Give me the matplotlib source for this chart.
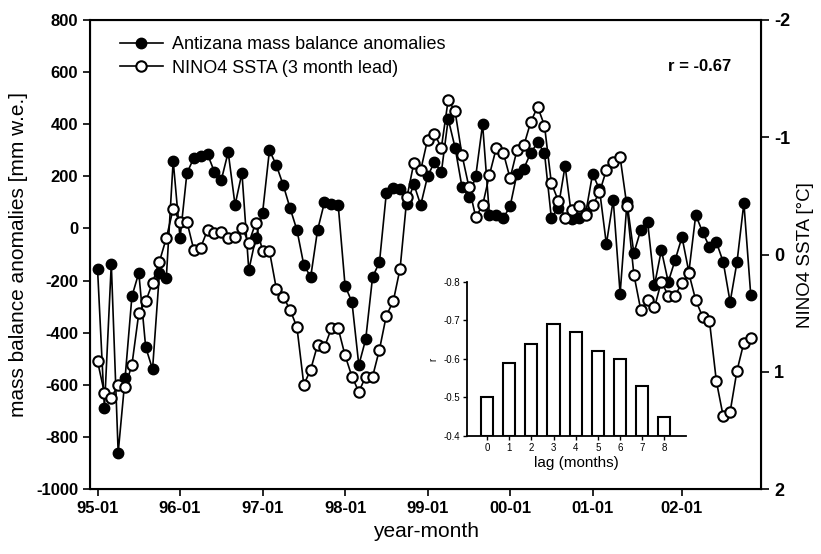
import numpy as np
import matplotlib
matplotlib.use('Agg')
import matplotlib.pyplot as plt

plt.rcParams['font.family'] = ['Liberation Sans', 'DejaVu Sans']
plt.rcParams['axes.unicode_minus'] = False

# monthly index, 0 = 1995-01
months = np.arange(96)

# Antizana mass balance anomalies [mm w.e.]
mass_balance = [
    -155, -690, -135, -860, -575, -260, -170, -455, -540, -170, -190, 260,
    -37, 213, 270, 280, 285, 217, 186, 293, 90, 213, -160, -37,
    60, 300, 243, 167, 78, -6, -140, -186, -6, 100, 94, 90,
    -220, -282, -524, -425, -186, -130, 136, 155, 150, 95, 170, 90,
    200, 255, 215, 420, 310, 160, 120, 200, 400, 50, 50, 40,
    85, 210, 230, 290, 330, 290, 40, 80, 240, 35, 40, 60,
    210, 150, -60, 110, -250, 100, -95, -6, 25, -217, -83, -205,
    -121, -33, -167, 52, -14, -71, -52, -129, -282, -129, 98, -255,
]

# NINO4 SSTA, 3 month lead [deg C]
nino4_ssta = [
    0.91, 1.18, 1.22, 1.11, 1.13, 0.94, 0.50, 0.40, 0.24, 0.06, -0.14, -0.39,
    -0.28, -0.28, -0.04, -0.06, -0.21, -0.18, -0.19, -0.14, -0.15, -0.23, -0.10, -0.27,
    -0.03, -0.03, 0.29, 0.36, 0.47, 0.62, 1.11, 0.98, 0.77, 0.79, 0.63, 0.63,
    0.86, 1.04, 1.17, 1.04, 1.04, 0.81, 0.52, 0.40, 0.12, -0.49, -0.78, -0.72,
    -0.98, -1.03, -0.91, -1.32, -1.22, -0.85, -0.58, -0.32, -0.42, -0.68, -0.91, -0.87,
    -0.65, -0.89, -0.93, -1.13, -1.26, -1.10, -0.61, -0.46, -0.31, -0.38, -0.41, -0.34,
    -0.42, -0.53, -0.72, -0.79, -0.83, -0.41, 0.17, 0.47, 0.39, 0.45, 0.23, 0.35,
    0.35, 0.24, 0.16, 0.39, 0.53, 0.57, 1.08, 1.38, 1.34, 0.99, 0.75, 0.71,
]

tick_pos = [0, 12, 24, 36, 48, 60, 72, 85]
tick_labels = ['95-01', '96-01', '97-01', '98-01', '99-01', '00-01', '01-01', '02-01']

# inset: correlation vs lag
lags = np.arange(9)
lag_r = [-0.50, -0.59, -0.64, -0.69, -0.67, -0.62, -0.60, -0.53, -0.45]

fig = plt.figure(figsize=(8.21, 5.54), dpi=100)
ax = fig.add_axes([0.1096, 0.117, 0.8174, 0.847])

ax.plot(months, mass_balance, color='black', lw=1.2, marker='o', ms=7.5,
        mfc='black', mec='black', label='Antizana mass balance anomalies')
ax.set_xlim(-1.1, 96.5)
ax.set_ylim(-1000, 800)
ax.set_yticks(np.arange(-1000, 801, 200))
ax.set_xticks(tick_pos)
ax.set_xticklabels(tick_labels)
ax.set_xlabel('year-month', fontsize=15)
ax.set_ylabel('mass balance anomalies [mm w.e.]', fontsize=15, labelpad=6)
ax.tick_params(direction='out', length=5, width=1.2, labelsize=12)
for lab in ax.get_xticklabels() + ax.get_yticklabels():
    lab.set_fontweight('bold')
for sp in ax.spines.values():
    sp.set_linewidth(1.5)

ax2 = ax.twinx()
ax2.plot(months, nino4_ssta, color='black', lw=1.2, marker='o', ms=7.5,
         mfc='white', mec='black', mew=1.5, label='NINO4 SSTA (3 month lead)')
ax2.set_ylim(2, -2)
ax2.set_yticks([-2, -1, 0, 1, 2])
ax2.set_ylabel('NINO4 SSTA [\u00b0C]', fontsize=13.5, labelpad=5)
ax2.tick_params(direction='out', length=6, width=1.2, labelsize=13)
for lab in ax2.get_yticklabels():
    lab.set_fontweight('bold')

h1, l1 = ax.get_legend_handles_labels()
h2, l2 = ax2.get_legend_handles_labels()
ax2.legend(h1 + h2, l1 + l2, loc='upper left', bbox_to_anchor=(0.02, 1.0),
           frameon=False, fontsize=13, handlelength=2.4, handletextpad=0.5,
           labelspacing=0.35)
ax2.text(0.955, 0.9, 'r = -0.67', transform=ax.transAxes, ha='right',
         va='center', fontsize=12, fontweight='bold')

# inset bar chart
ins = fig.add_axes([0.569, 0.213, 0.267, 0.278])
ins.patch.set_alpha(0)
base = -0.4
ins.bar(lags, np.array(lag_r) - base, bottom=base, width=0.55,
        facecolor='white', edgecolor='black', lw=1.5)
ins.set_ylim(-0.4, -0.8)
ins.set_xlim(-0.9, 9.0)
ins.set_yticks([-0.8, -0.7, -0.6, -0.5, -0.4])
ins.set_yticklabels(['-0.8', '-0.7', '-0.6', '-0.5', '-0.4'])
ins.set_xticks(lags)
ins.tick_params(labelsize=7, length=3, width=1, pad=2)
ins.set_xlabel('lag (months)', fontsize=11, labelpad=2)
ins.set_ylabel('r', fontsize=7, labelpad=4)
ins.spines['top'].set_visible(False)
ins.spines['right'].set_visible(False)
ins.spines['left'].set_linewidth(1.3)
ins.spines['bottom'].set_linewidth(1.3)

fig.savefig('out.png', dpi=100)
